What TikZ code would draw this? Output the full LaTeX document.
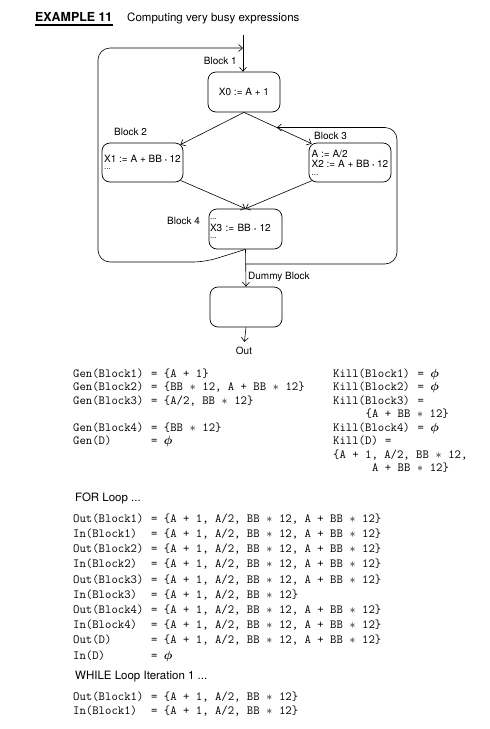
\documentclass[tikz,border=0pt]{standalone}
\usepackage{amsmath}
\usepackage{fontspec}
\setmainfont{TeX Gyre Heros}
\usepackage{tikz}
\usetikzlibrary{arrows.meta}

\newcommand{\tstar}{\makebox[0.525em]{$\ast$}}
\newcommand{\fullset}{\{A + 1, A/2, BB \tstar{} 12, A + BB \tstar{} 12\}}
\newcommand{\noset}{$\boldsymbol{\phi}$}
\newcommand{\dotl}{{\fontsize{8}{8}\selectfont...}}
\newcommand{\blkdot}{{\fontsize{6}{6}\selectfont\textbullet}}

\begin{document}
\begin{tikzpicture}[x=1pt,y=-1pt,
  blk/.style={draw,rounded corners=8pt,line width=0.7pt,minimum height=40pt,inner sep=1pt,
    align=left,font=\fontsize{10}{11.5}\selectfont},
  lbl/.style={inner sep=1pt,font=\fontsize{10}{11}\selectfont},
  flow/.style={line width=0.6pt,-{Straight Barb[length=4pt,width=7pt]}},
  back/.style={line width=0.7pt,rounded corners=12pt},
  code/.style={anchor=base west,inner sep=0pt,font=\fontsize{12.4}{14}\ttfamily},
  head/.style={anchor=base west,inner sep=0pt,font=\fontsize{11.5}{14}\selectfont}]
  \useasboundingbox (0,0) rectangle (490,729);
  % title
  \node[head,font=\fontsize{12.4}{14}\selectfont\bfseries] (ttl) at (35,21) {EXAMPLE 11};
  \draw[line width=1.4pt] ([yshift=-4pt]ttl.base west) -- ([yshift=-4pt]ttl.base east);
  \node[head] (sub) at (127,21) {Computing very busy expressions};
  % flow graph
  \node[blk,minimum width=72pt,align=center] (b1) at (244,92) {X0 := A + 1};
  \node[blk,minimum width=81pt,minimum height=39pt] (b2) at (142.5,162.5) {X1 := A + BB \blkdot{} 12\\[-4pt]\dotl};
  \node[blk,minimum width=82pt,minimum height=39pt] (b3) at (350,162.5) {A := A/2\\[-1pt]X2 := A + BB \blkdot{} 12\\[-4pt]\dotl};
  \node[blk,text width=71pt] (b4) at (245.5,229) {\dotl\\[0pt]X3 := BB \blkdot{} 12\\[-4pt]\dotl};
  \node[blk,minimum width=72pt] (dum) at (246,307) {};
  \node[lbl,anchor=east] (l1) at (238,61) {Block 1};
  \node[lbl,anchor=west] (l2) at (113,132) {Block 2};
  \node[lbl,anchor=west] (l3) at (313,136) {Block 3};
  \node[lbl,anchor=west] (l4) at (166,221) {Block 4};
  \node[lbl,anchor=west] (ld) at (247,277) {Dummy Block};
  \node[lbl] (out) at (244,351) {Out};
  \coordinate (entry) at (243,35);
  \coordinate (ltop) at (243,48);
  \coordinate (lbend) at (205,262);
  \coordinate (rjoin) at (245.5,264);
  \coordinate (rtip) at (277,127.5);
  \draw[flow] (entry) -- (b1.north -| entry);
  \draw[flow] (b1.south) -- ([shift={(-3,2)}]b2.north east);
  \draw[flow] (b1.south) -- ([shift={(3,1)}]b3.north west);
  \draw[flow] ([shift={(-3,-2)}]b2.south east) -- (b4.north);
  \draw[flow] ([shift={(4,-2)}]b3.south west) -- (b4.north);
  \draw[flow] (b4.south) -- (dum.north);
  \draw[flow,shorten >=4pt] (dum.south) -- (out.north);
  \draw[back,flow] (b4.south) -- (lbend) -- (98,262) -- (98,48) -- (ltop);
  \draw[back,flow] (rjoin) -- (397,264) -- (397,127.5) -- (rtip);
  % gen and kill sets
  \node[code] (g1) at (73,377) {Gen(Block1)};   \node[code] (g1r) at (151,377) {= \{A + 1\}};
  \node[code] (g2) at (73,390.5) {Gen(Block2)}; \node[code] (g2r) at (151,390.5) {= \{BB \tstar{} 12, A + BB \tstar{} 12\}};
  \node[code] (g3) at (73,404) {Gen(Block3)};   \node[code] (g3r) at (151,404) {= \{A/2, BB \tstar{} 12\}};
  \node[code] (g4) at (73,431) {Gen(Block4)};   \node[code] (g4r) at (151,431) {= \{BB \tstar{} 12\}};
  \node[code] (gd) at (73,444.5) {Gen(D)};      \node[code] (gdr) at (151,444.5) {= \noset};
  \node[code] (k1) at (333,377) {Kill(Block1)};   \node[code] (k1r) at (417.5,377) {= \noset};
  \node[code] (k2) at (333,390.5) {Kill(Block2)}; \node[code] (k2r) at (417.5,390.5) {= \noset};
  \node[code] (k3) at (333,404) {Kill(Block3)};   \node[code] (k3r) at (417.5,404) {=};
  \node[code] (k3s) at (365.5,417.5) {\{A + BB \tstar{} 12\}};
  \node[code] (k4) at (333,431) {Kill(Block4)};   \node[code] (k4r) at (417.5,431) {= \noset};
  \node[code] (kd) at (333,444.5) {Kill(D)};      \node[code] (kdr) at (385,444.5) {=};
  \node[code] (kds) at (333,458) {\{A + 1, A/2, BB \tstar{} 12,};
  \node[code] (kdt) at (372,471.5) {A + BB \tstar{} 12\}};
  % for loop
  \node[head] (forh) at (75,501) {FOR Loop ...};
  \node[code] (f1) at (73,522) {Out(Block1)};   \node[code] (f1r) at (151,522) {= \fullset};
  \node[code] (f2) at (73,537) {In(Block1)};    \node[code] (f2r) at (151,537) {= \fullset};
  \node[code] (f3) at (73,552) {Out(Block2)};   \node[code] (f3r) at (151,552) {= \fullset};
  \node[code] (f4) at (73,567.5) {In(Block2)};  \node[code] (f4r) at (151,567.5) {= \fullset};
  \node[code] (f5) at (73,583) {Out(Block3)};   \node[code] (f5r) at (151,583) {= \fullset};
  \node[code] (f6) at (73,598) {In(Block3)};    \node[code] (f6r) at (151,598) {= \{A + 1, A/2, BB \tstar{} 12\}};
  \node[code] (f7) at (73,613) {Out(Block4)};   \node[code] (f7r) at (151,613) {= \fullset};
  \node[code] (f8) at (73,628) {In(Block4)};    \node[code] (f8r) at (151,628) {= \fullset};
  \node[code] (f9) at (73,643.5) {Out(D)};      \node[code] (f9r) at (151,643.5) {= \fullset};
  \node[code] (f10) at (73,659) {In(D)};        \node[code] (f10r) at (151,659) {= \noset};
  % while loop
  \node[head] (wh) at (75,679) {WHILE Loop Iteration 1 ...};
  \node[code] (w1) at (73,700) {Out(Block1)};   \node[code] (w1r) at (151,700) {= \{A + 1, A/2, BB \tstar{} 12\}};
  \node[code] (w2) at (73,714.5) {In(Block1)};  \node[code] (w2r) at (151,714.5) {= \{A + 1, A/2, BB \tstar{} 12\}};
\end{tikzpicture}
\end{document}
